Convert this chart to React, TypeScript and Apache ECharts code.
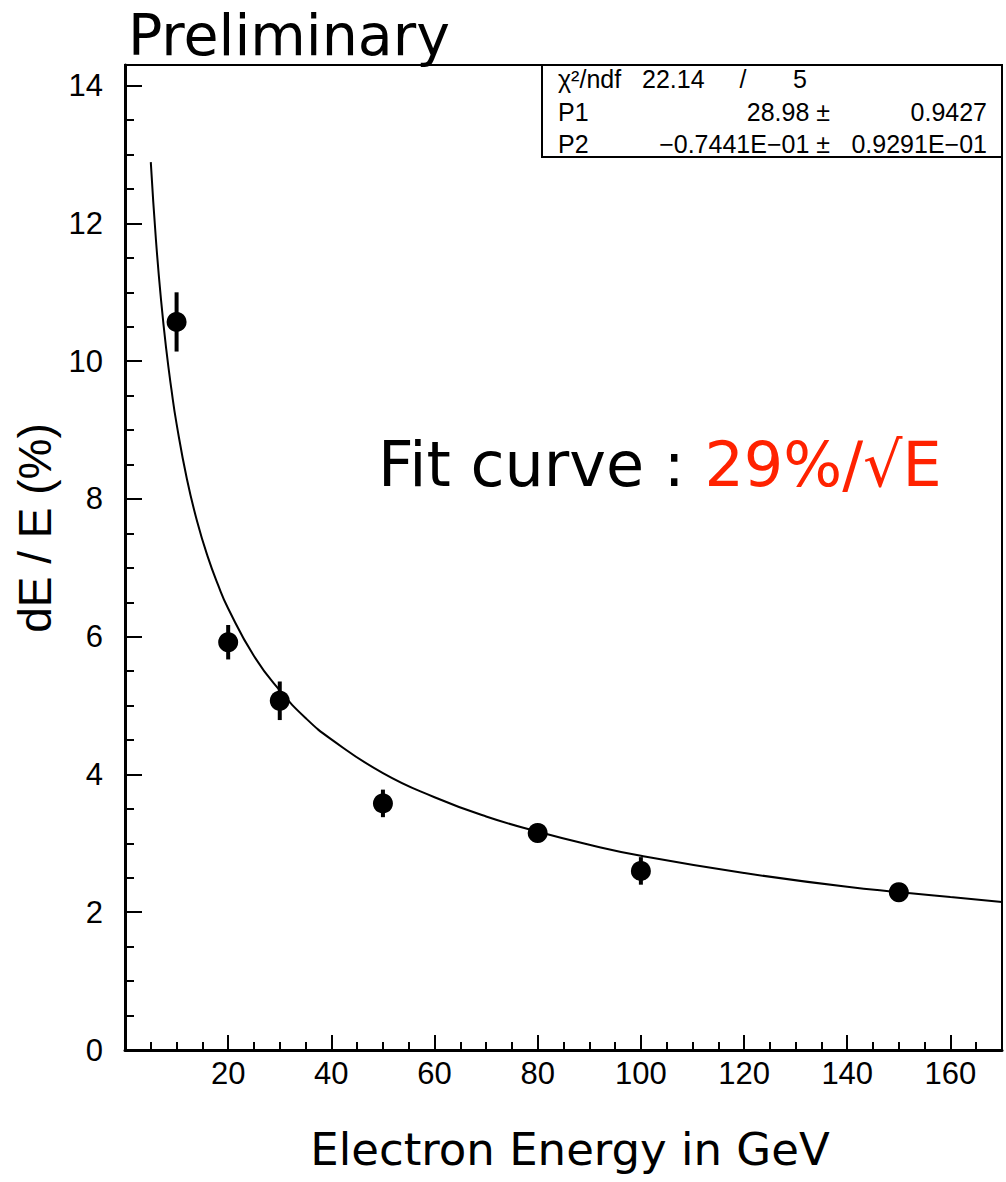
import React, { useEffect, useRef } from "react";
import * as echarts from "echarts";

// Measured points
const energies = [10, 20, 30, 50, 80, 100, 150];
const resolution = [10.57, 5.92, 5.07, 3.58, 3.15, 2.6, 2.29];
const errors = [0.43, 0.25, 0.28, 0.2, 0.1, 0.2, 0.1];

// Fit curve
const fitE = [5, 6, 7, 8, 9, 10, 12, 14, 16, 18, 20, 25, 30, 35, 40, 50, 60, 70, 80, 90, 100, 120, 140, 160, 170];
const fitY = [12.89, 11.76, 10.88, 10.17, 9.59, 9.09, 8.29, 7.67, 7.17, 6.76, 6.41, 5.72, 5.22, 4.82, 4.51, 4.02, 3.67, 3.39, 3.17, 2.98, 2.82, 2.57, 2.37, 2.22, 2.15];

const statsRows = [
  ["χ²/ndf", "22.14", "/", "5"],
  ["P1", "28.98 ±", "0.9427"],
  ["P2", "−0.7441E−01 ±", "0.9291E−01"],
];

const xTickLabels = [20, 40, 60, 80, 100, 120, 140, 160];
const yTickLabels = [0, 2, 4, 6, 8, 10, 12, 14];

const SANS = "'Liberation Sans', Arial, Helvetica, sans-serif";
const DEJA = "'DejaVu Sans', Verdana, sans-serif";

export default function App() {
  const ref = useRef<HTMLDivElement>(null);
  useEffect(() => {
    document.body.style.margin = "0";
    const chart = echarts.init(ref.current!, null, { renderer: "svg" });
    const statsFont = { fontFamily: SANS, fontSize: 25, fill: "#000" };
    const rowY = [79, 111.5, 143.5];
    const option: any = {
      animation: false,
      backgroundColor: "#fff",
      grid: {
        left: 125,
        right: 4,
        top: 65,
        bottom: 132,
        show: true,
        borderColor: "#000",
        borderWidth: 2,
        backgroundColor: "transparent",
        outerBoundsMode: "none",
      },
      xAxis: {
        type: "value",
        min: 0,
        max: 170,
        interval: 20,
        axisLine: { show: true, onZero: false, lineStyle: { color: "#000", width: 3 } },
        axisTick: { show: true, inside: true, length: 15, lineStyle: { color: "#000", width: 2 } },
        minorTick: { show: true, splitNumber: 4, length: 8, lineStyle: { color: "#000", width: 2 } },
        splitLine: { show: false },
        axisLabel: {
          show: true,
          margin: 8,
          color: "#000",
          fontFamily: SANS,
          fontSize: 31,
          formatter: (v: number) => (xTickLabels.indexOf(v) >= 0 ? String(v) : ""),
        },
      },
      yAxis: {
        type: "value",
        min: 0,
        max: 14.3,
        interval: 2,
        axisLine: { show: true, onZero: false, lineStyle: { color: "#000", width: 3 } },
        axisTick: { show: true, inside: true, length: 17, lineStyle: { color: "#000", width: 2 } },
        minorTick: { show: true, splitNumber: 4, length: 9, lineStyle: { color: "#000", width: 2 } },
        splitLine: { show: false },
        axisLabel: {
          show: true,
          margin: 22,
          color: "#000",
          fontFamily: SANS,
          fontSize: 31,
          formatter: (v: number) => (yTickLabels.indexOf(v) >= 0 ? String(v) : ""),
        },
      },
      series: [
        {
          type: "line",
          data: fitE.map((e, i) => [e, fitY[i]]),
          showSymbol: false,
          smooth: true,
          lineStyle: { color: "#000", width: 2 },
          z: 1,
          silent: true,
        },
        {
          type: "custom",
          data: energies.map((e, i) => [e, resolution[i], errors[i]]),
          encode: { x: 0, y: 1 },
          z: 2,
          renderItem: (params: any, api: any) => {
            const x = api.value(0);
            const y = api.value(1);
            const e = api.value(2);
            const top = api.coord([x, y + e]);
            const bot = api.coord([x, y - e]);
            return {
              type: "line",
              shape: { x1: top[0], y1: top[1], x2: bot[0], y2: bot[1] },
              style: { stroke: "#000", lineWidth: 4 },
            };
          },
        },
        {
          type: "scatter",
          data: energies.map((e, i) => [e, resolution[i]]),
          symbol: "circle",
          symbolSize: 20,
          itemStyle: { color: "#000", borderColor: "#000", borderWidth: 0, opacity: 1 },
          z: 3,
        },
      ],
      graphic: [
        {
          type: "text",
          x: 128,
          y: 35,
          style: { text: "Preliminary", font: `57px ${DEJA}`, lineHeight: 58, fill: "#000", align: "left", verticalAlign: "middle" },
        },
        {
          type: "text",
          x: 378,
          y: 464,
          style: {
            text: "{a|Fit curve : }{b|29%/√E}",
            align: "left",
            verticalAlign: "middle",
            rich: {
              a: { fontFamily: DEJA, fontSize: 62, fill: "#000", color: "#000" },
              b: { fontFamily: DEJA, fontSize: 62, fill: "#ff2200", color: "#ff2200" },
            },
          },
        },
        {
          type: "text",
          x: 570,
          y: 1149,
          style: { text: "Electron Energy in GeV", font: `45px ${DEJA}`, fill: "#000", align: "center", verticalAlign: "middle" },
        },
        {
          type: "text",
          x: 35,
          y: 528,
          rotation: Math.PI / 2,
          style: { text: "dE / E (%)", font: `46px ${SANS}`, fill: "#000", align: "center", verticalAlign: "middle" },
        },
        {
          type: "rect",
          shape: { x: 542, y: 65, width: 460, height: 92 },
          style: { fill: "#fff", stroke: "#000", lineWidth: 2 },
          z: 10,
        },
        { type: "text", z: 11, x: 558, y: rowY[0], style: { ...statsFont, text: statsRows[0][0], align: "left", verticalAlign: "middle" } },
        { type: "text", z: 11, x: 642, y: rowY[0], style: { ...statsFont, text: statsRows[0][1], align: "left", verticalAlign: "middle" } },
        { type: "text", z: 11, x: 743, y: rowY[0], style: { ...statsFont, text: statsRows[0][2], align: "center", verticalAlign: "middle" } },
        { type: "text", z: 11, x: 807, y: rowY[0], style: { ...statsFont, text: statsRows[0][3], align: "right", verticalAlign: "middle" } },
        { type: "text", z: 11, x: 558, y: rowY[1], style: { ...statsFont, text: statsRows[1][0], align: "left", verticalAlign: "middle" } },
        { type: "text", z: 11, x: 830, y: rowY[1], style: { ...statsFont, text: statsRows[1][1], align: "right", verticalAlign: "middle" } },
        { type: "text", z: 11, x: 987, y: rowY[1], style: { ...statsFont, text: statsRows[1][2], align: "right", verticalAlign: "middle" } },
        { type: "text", z: 11, x: 558, y: rowY[2], style: { ...statsFont, text: statsRows[2][0], align: "left", verticalAlign: "middle" } },
        { type: "text", z: 11, x: 830, y: rowY[2], style: { ...statsFont, text: statsRows[2][1], align: "right", verticalAlign: "middle" } },
        { type: "text", z: 11, x: 987, y: rowY[2], style: { ...statsFont, text: statsRows[2][2], align: "right", verticalAlign: "middle" } },
      ],
    };
    chart.setOption(option);
    return () => chart.dispose();
  }, []);
  return <div ref={ref} style={{ position: "absolute", left: 0, top: 0, width: 1006, height: 1182 }} />;
}
